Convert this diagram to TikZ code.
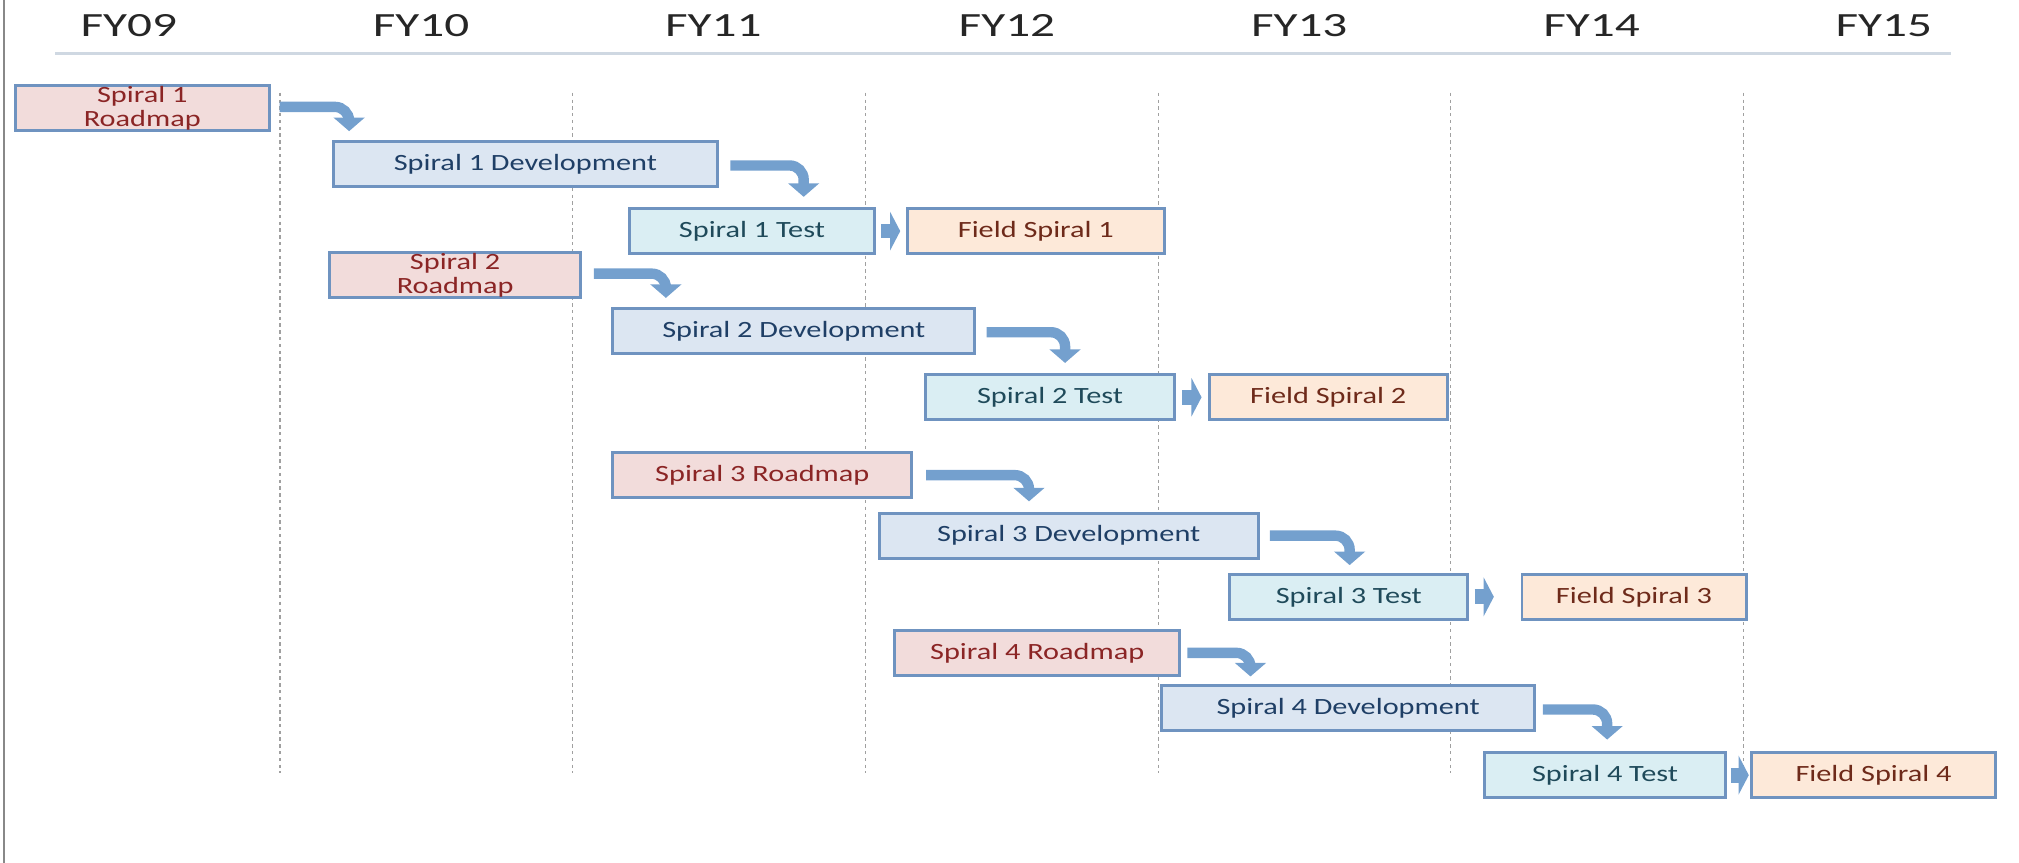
\documentclass[tikz,border=0pt]{standalone}
\usepackage{fontspec}
\setmainfont{Carlito}
\newfontfamily\bxfont[FakeStretch=1.3]{Carlito}
\newfontfamily\fyfont[FakeStretch=1.45]{Carlito}
\usetikzlibrary{arrows.meta,calc}
\definecolor{bordc}{HTML}{6F93C0}
\definecolor{rmfill}{HTML}{F2DCDB}
\definecolor{devfill}{HTML}{DCE6F2}
\definecolor{tstfill}{HTML}{DAEEF3}
\definecolor{fldfill}{HTML}{FDE9D9}
\definecolor{rmtext}{HTML}{8B2525}
\definecolor{fldtext}{HTML}{6E2A1A}
\definecolor{devtext}{HTML}{1F3F66}
\definecolor{tsttext}{HTML}{1F4A5A}
\definecolor{arrc}{HTML}{74A0CE}
\definecolor{gridc}{HTML}{A0A0A0}
\definecolor{rulec}{HTML}{CFD8E2}
\definecolor{framec}{HTML}{888888}
\begin{document}
\begin{tikzpicture}[x=0.02cm,y=-0.02cm,
 box/.style={draw=bordc,line width=1.3pt,minimum height=35*0.02cm,inner sep=0pt,align=center,font=\bxfont\fontsize{10.3}{10.6}\selectfont},
 bw/.style={minimum width=#1*0.02cm},
 rmap/.style={box,fill=rmfill,text=rmtext},
 dev/.style={box,fill=devfill,text=devtext},
 tst/.style={box,fill=tstfill,text=tsttext},
 fld/.style={box,fill=fldfill,text=fldtext},
 fy/.style={anchor=base,font=\fyfont\fontsize{15}{18}\selectfont,text=black!85},
 grid/.style={draw=gridc,line width=0.5pt,dash pattern=on 1.5pt off 1.5pt},
 bent/.style={draw=arrc,line width=4.6pt,rounded corners=0.22cm,-{Triangle[width=13.5pt,length=6pt]}},
 chev/.style={draw=arrc,line width=6.5pt,-{Triangle[width=17pt,length=4.5pt]}}
]
\path[use as bounding box] (0,0) rectangle (1568,670);
\draw[framec,line width=1pt] (3,0) -- (3,670);
\draw[rulec,line width=1pt] (43,41.5) -- (1515,41.5);
% year labels
\node[fy] (fy09) at (100,28.5) {FY09};
\node[fy] (fy10) at (327,28.5) {FY10};
\node[fy] (fy11) at (554,28.5) {FY11};
\node[fy] (fy12) at (782,28.5) {FY12};
\node[fy] (fy13) at (1009,28.5) {FY13};
\node[fy] (fy14) at (1236,28.5) {FY14};
\node[fy] (fy15) at (1463,28.5) {FY15};
% grid
\foreach \i in {0,...,5} \draw[grid] ({217.5+227.3*\i},72) -- ({217.5+227.3*\i},600);
% boxes
\node[rmap,bw=197] (s1r) at (110.5,84) {Spiral 1\\Roadmap};
\node[dev,bw=298] (s1d) at (408,127.5) {Spiral 1 Development};
\node[tst,bw=190] (s1t) at (584,179.5) {Spiral 1 Test};
\node[fld,bw=199] (f1) at (804.5,179.5) {Field Spiral 1};
\node[rmap,bw=195] (s2r) at (353.5,213.5) {Spiral 2\\Roadmap};
\node[dev,bw=281] (s2d) at (616.5,257) {Spiral 2 Development};
\node[tst,bw=193] (s2t) at (815.5,308.5) {Spiral 2 Test};
\node[fld,bw=185] (f2) at (1031.5,308.5) {Field Spiral 2};
\node[rmap,bw=232] (s3r) at (592,369) {Spiral 3 Roadmap};
\node[dev,bw=294] (s3d) at (830,416) {Spiral 3 Development};
\node[tst,bw=185] (s3t) at (1047.5,463.5) {Spiral 3 Test};
\node[fld,bw=174] (f3) at (1269,463.5) {Field Spiral 3};
\node[rmap,bw=221] (s4r) at (805.5,507) {Spiral 4 Roadmap};
\node[dev,bw=290] (s4d) at (1047,550) {Spiral 4 Development};
\node[tst,bw=187] (s4t) at (1246.5,602) {Spiral 4 Test};
\node[fld,bw=190] (f4) at (1455,602) {Field Spiral 4};
% bent arrows
\draw[bent] ($(s1r.east)+(7,-1)$) -| ($(s1r.east|-s1d.north)+(61,-7)$);
\draw[bent] ($(s1d.east)+(9,1)$) -| ($(s1d.east|-s1t.north)+(66,-8)$);
\draw[bent] ($(s2r.east)+(9,-1)$) -| ($(s2r.east|-s2d.north)+(65,-7)$);
\draw[bent] ($(s2d.east)+(8,1)$) -| ($(s2d.east|-s2t.north)+(69,-8)$);
\draw[bent] ($(s3r.east)+(10,0)$) -| ($(s3r.east|-s3d.north)+(90,-8)$);
\draw[bent] ($(s3d.east)+(8,0)$) -| ($(s3d.east|-s3t.north)+(70,-6)$);
\draw[bent] ($(s4r.east)+(5,0)$) -| ($(s4r.east|-s4d.north)+(54,-6)$);
\draw[bent] ($(s4d.east)+(5,1)$) -| ($(s4d.east|-s4t.north)+(55,-9)$);
% chevrons
\draw[chev] ($(s1t.east)+(4,0)$) -- ($(s1t.east)+(19,0)$);
\draw[chev] ($(s2t.east)+(5,0)$) -- ($(s2t.east)+(20,0)$);
\draw[chev] ($(s3t.east)+(4,0)$) -- ($(s3t.east)+(19,0)$);
\draw[chev] ($(s4t.east)+(3,0)$) -- ($(s4t.east)+(17,0)$);
\end{tikzpicture}
\end{document}
